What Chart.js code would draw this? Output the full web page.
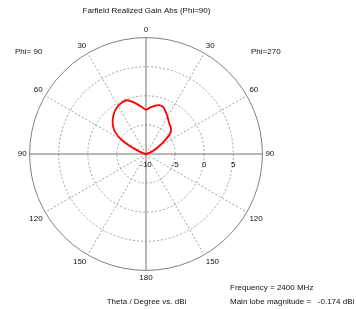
<!DOCTYPE html>
<html>
<head>
<meta charset="utf-8">
<script src="https://cdn.jsdelivr.net/npm/chart.js@4/dist/chart.umd.min.js"></script>
<style>
  html, body { margin: 0; padding: 0; background: #fff; }
  #wrap { position: relative; width: 356px; height: 309px; }
</style>
</head>
<body>
<div id="wrap"><canvas id="farfield"></canvas></div>
<script>
/* ── Data ─────────────────────────────────────────────── */

// Direction, degrees clockwise from the top of the plot (5° steps).
// 0..180 = theta on the Phi=270 side, 180..360 = theta on the Phi=90 side.
const angles = [
  0, 5, 10, 15, 20, 25, 30, 35, 40, 45, 50, 55,
  60, 65, 70, 75, 80, 85, 90, 95, 100, 105, 110, 115,
  120, 125, 130, 135, 140, 145, 150, 155, 160, 165, 170, 175,
  180, 185, 190, 195, 200, 205, 210, 215, 220, 225, 230, 235,
  240, 245, 250, 255, 260, 265, 270, 275, 280, 285, 290, 295,
  300, 305, 310, 315, 320, 325, 330, 335, 340, 345, 350, 355,
];

// Realized gain (dBi), clipped at the -10 dBi plot minimum
const gainDbi = [
  -2.4, -2.0, -1.6, -1.3, -1.4, -2.0, -2.6, -3.2, -3.6, -3.9, -4.6, -6.2,
  -7.6, -8.4, -9.2, -9.8, -10, -10, -10, -10, -10, -10, -10, -10,
  -10, -10, -10, -10, -10, -10, -10, -10, -10, -10, -10, -10,
  -10, -10, -10, -10, -10, -10, -10, -10, -10, -10, -10, -10,
  -10, -10, -10, -10, -10, -10, -10, -10, -10, -9.6, -8.8, -7.3,
  -5.2, -3.6, -2.6, -1.9, -1.3, -0.8, -0.45, -0.25, -0.17, -0.7, -1.3, -1.9,
];

// Theta labels shown round the rim, and the radial dB ticks
const thetaTicks = [0, 30, 60, 90, 120, 150, 180];
const dbTicks = [-10, -5, 0, 5];

const TITLE = "Farfield Realized Gain Abs (Phi=90)";
const PHI_LEFT = "Phi= 90";
const PHI_RIGHT = "Phi=270";
const AXIS_NOTE = "Theta / Degree vs. dBi";
const FREQ_NOTE = "Frequency = 2400 MHz";
const LOBE_NOTE = "Main lobe magnitude =   -0.174 dBi";

/* ── Helpers ──────────────────────────────────────────── */

const FONT = "Liberation Sans, Arial, sans-serif";
const TEXT = "#111";

/** Theta shown for a clockwise angle (mirrored on the left half). */
function thetaOf(a) {
  return a <= 180 ? a : 360 - a;
}

// Free-standing captions and the dB tick labels along the right axis
const captions = {
  id: "captions",
  afterDraw(chart) {
    const { ctx } = chart;
    const r = chart.scales.r;
    ctx.save();
    ctx.fillStyle = TEXT;
    ctx.font = `8px ${FONT}`;
    ctx.textBaseline = "middle";

    ctx.textAlign = "center";
    for (const v of dbTicks) {
      const x = r.xCenter + r.getDistanceFromCenterForValue(v);
      ctx.fillText(String(v), x, r.yCenter + 11);
    }
    ctx.fillText(TITLE, 146.5, 11);
    ctx.fillText(AXIS_NOTE, 146.5, 302);

    ctx.textAlign = "left";
    ctx.fillText(PHI_LEFT, 15, 52);
    ctx.fillText(PHI_RIGHT, 251, 52);
    ctx.fillText(FREQ_NOTE, 230, 288);
    ctx.fillText(LOBE_NOTE, 230, 302);
    ctx.restore();
  },
};

/* ── Chart ────────────────────────────────────────────── */

new Chart(document.getElementById("farfield"), {
  type: "radar",
  data: {
    labels: angles.map((a) => String(thetaOf(a))),
    datasets: [{
      data: gainDbi,
      borderColor: "#ff0000",
      borderWidth: 1.8,
      fill: false,
      pointRadius: 0,
      tension: 0.3,
    }],
  },
  options: {
    responsive: true,
    maintainAspectRatio: false,
    animation: false,
    events: [],
    layout: { padding: { left: 17, right: 81, top: 26, bottom: 25 } },
    plugins: { legend: { display: false }, tooltip: { enabled: false } },
    scales: {
      r: {
        min: -10,
        max: 10,
        ticks: { stepSize: 5, display: false },
        grid: {
          circular: true,
          color: (c) => (c.tick && c.tick.value === 10 ? "#808080" : "#a0a0a0"),
          lineWidth: 1,
        },
        border: {
          dash: (c) => (c.tick && c.tick.value === 10 ? [] : [2, 2]),
        },
        angleLines: {
          color: (c) => {
            const a = angles[c.index];
            if (a % 90 === 0) return "#707070";
            if (a % 30 === 0) return "#a0a0a0";
            return "rgba(0,0,0,0)";
          },
          lineWidth: (c) => (angles[c.index] % 30 === 0 ? 1 : 0),
          borderDash: (c) => (angles[c.index] % 90 === 0 ? [] : [2, 2]),
        },
        pointLabels: {
          padding: 3,
          color: TEXT,
          font: { family: FONT, size: 8 },
          callback: (label, i) =>
            thetaTicks.includes(thetaOf(angles[i])) && angles[i] % 30 === 0 ? label : "",
        },
      },
    },
  },
  plugins: [captions],
});
</script>
</body>
</html>
